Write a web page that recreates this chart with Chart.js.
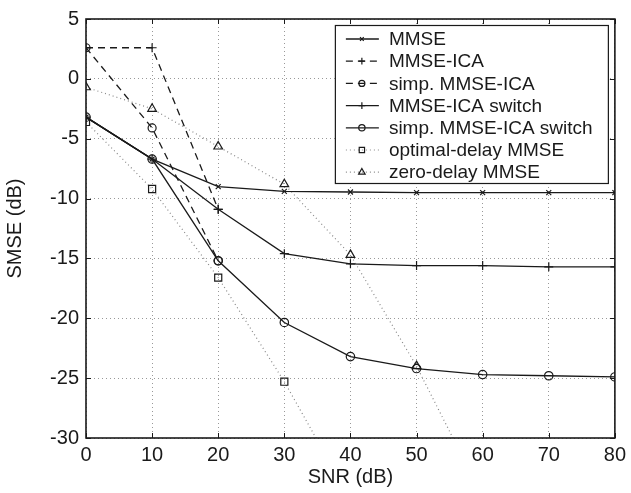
<!DOCTYPE html>
<html>
<head>
<meta charset="utf-8">
<script src="https://cdn.jsdelivr.net/npm/chart.js@4.4.1/dist/chart.umd.min.js"></script>
<style>html,body{margin:0;padding:0;background:#fff}</style>
</head>
<body>
<canvas id="chartSmse" width="631" height="493"></canvas>
<script>
    // values (dB)
    const snr = [0, 10, 20, 30, 40, 50, 60, 70, 80];
    const mmse = [-3.2, -6.7, -9.0, -9.4, -9.45, -9.5, -9.5, -9.5, -9.5];
    const mmseIca = [2.6, 2.6, -10.9, null, null, null, null, null, null];
    const simpMmseIca = [2.6, -4.1, -15.2, null, null, null, null, null, null];
    const mmseIcaSwitch = [-3.2, -6.7, -10.9, -14.6, -15.45, -15.6, -15.6, -15.7, -15.7];
    const simpSwitch = [-3.2, -6.7, -15.2, -20.35, -23.2, -24.2, -24.7, -24.8, -24.9];
    const optimalDelay = [-3.6, -9.2, -16.6, -25.3, -35.1, null, null, null, null];
    const zeroDelay = [-0.7, -2.5, -5.65, -8.8, -14.7, -24.0, -34.9, null, null];

    const snrTicks = [0, 10, 20, 30, 40, 50, 60, 70, 80];
    const smseTicks = [-30, -25, -20, -15, -10, -5, 0, 5];

    const FONT = "'Liberation Sans', Arial, Helvetica, sans-serif";
    const INK = '#1a1a1a';

    function pts(vals) {
      return snr.map((x, i) => ({ x: x, y: vals[i] }));
    }

    function series(label, vals, style, dash, marker, radius, lineColor) {
      return {
        label: label,
        data: pts(vals),
        borderColor: lineColor || INK,
        borderWidth: style === 'dot' ? 1.2 : 1.3,
        borderDash: dash,
        pointStyle: marker,
        pointRadius: radius,
        pointBorderColor: INK,
        pointBackgroundColor: 'rgba(0,0,0,0)',
        pointBorderWidth: 1.2,
        tension: 0,
        spanGaps: false
      };
    }

    const datasets = [
      series('MMSE', mmse, 'solid', [], 'crossRot', 3.5),
      series('MMSE-ICA', mmseIca, 'dash', [7, 5], 'cross', 4.5),
      series('simp. MMSE-ICA', simpMmseIca, 'dash', [7, 5], 'circle', 4),
      series('MMSE-ICA switch', mmseIcaSwitch, 'solid', [], 'cross', 4.5),
      series('simp. MMSE-ICA switch', simpSwitch, 'solid', [], 'circle', 4.2),
      series('optimal-delay MMSE', optimalDelay, 'dot', [1, 3], 'rect', 5, '#888'),
      series('zero-delay MMSE', zeroDelay, 'dot', [1, 3], 'triangle', 5, '#888')
    ];

    // box, inward ticks and the legend, drawn MATLAB style
    const frameAndLegend = {
      id: 'frameAndLegend',
      afterDatasetsDraw(chart) {
        const { ctx, chartArea: a, scales } = chart;
        const line = (x1, y1, x2, y2) => { ctx.beginPath(); ctx.moveTo(x1, y1); ctx.lineTo(x2, y2); ctx.stroke(); };
        ctx.save();
        ctx.setLineDash([]);
        ctx.strokeStyle = INK;
        ctx.lineWidth = 1;
        snrTicks.forEach(v => {
          const px = Math.round(scales.x.getPixelForValue(v)) + 0.5;
          line(px, a.bottom, px, a.bottom - 5);
          line(px, a.top, px, a.top + 5);
        });
        smseTicks.forEach(v => {
          const py = Math.round(scales.y.getPixelForValue(v)) + 0.5;
          line(a.left, py, a.left + 5, py);
          line(a.right, py, a.right - 5, py);
        });
        ctx.lineWidth = 1.6;
        ctx.strokeRect(a.left, a.top, a.right - a.left, a.bottom - a.top);

        // legend box
        const bx = a.right - 280, by = a.top + 6, bw = 273, bh = 158;
        ctx.fillStyle = '#fff';
        ctx.fillRect(bx, by, bw, bh);
        ctx.lineWidth = 1.2;
        ctx.strokeRect(bx + 0.5, by + 0.5, bw, bh);
        ctx.font = '19px ' + FONT;
        ctx.textBaseline = 'middle';
        chart.data.datasets.forEach((ds, i) => {
          const ry = by + 14 + i * 22.2;
          ctx.save();
          ctx.strokeStyle = ds.borderColor;
          ctx.lineWidth = ds.borderWidth;
          ctx.setLineDash(ds.borderDash);
          line(bx + 11, ry, bx + 44, ry);
          ctx.restore();
          ctx.strokeStyle = INK;
          ctx.fillStyle = 'rgba(0,0,0,0)';
          ctx.lineWidth = ds.pointBorderWidth;
          Chart.helpers.drawPoint(ctx, { pointStyle: ds.pointStyle, radius: ds.pointRadius * 0.75, rotation: 0, borderWidth: ds.pointBorderWidth }, bx + 27, ry);
          ctx.fillStyle = INK;
          ctx.fillText(ds.label, bx + 54, ry + 1);
        });
        ctx.restore();
      }
    };

    const ctx = document.getElementById('chartSmse').getContext('2d');
    const chart = new Chart(ctx, {
      type: 'line',
      data: { datasets: datasets },
      plugins: [frameAndLegend],
      options: {
        responsive: false,
        devicePixelRatio: 1,
        animation: false,
        layout: { padding: { top: 18, right: 12, left: 0, bottom: 0 } },
        plugins: { legend: { display: false }, tooltip: { enabled: false } },
        scales: {
          x: {
            type: 'linear', min: 0, max: 80,
            afterFit: s => { s.height = 55; },
            afterBuildTicks: s => { s.ticks = snrTicks.map(v => ({ value: v })); },
            ticks: { color: INK, font: { family: FONT, size: 20 }, padding: 5, maxRotation: 0 },
            grid: { color: '#999', lineWidth: 1, drawTicks: false },
            border: { display: false, dash: [1, 3] },
            title: { display: true, text: 'SNR (dB)', color: INK, font: { family: FONT, size: 20 }, padding: { top: 0, bottom: 4 } }
          },
          y: {
            type: 'linear', min: -30, max: 5,
            afterFit: s => { s.width = 86; },
            afterBuildTicks: s => { s.ticks = smseTicks.map(v => ({ value: v })); },
            ticks: { color: INK, font: { family: FONT, size: 20 }, padding: 7 },
            grid: { color: '#999', lineWidth: 1, drawTicks: false },
            border: { display: false, dash: [1, 3] },
            title: { display: true, text: 'SMSE (dB)', color: INK, font: { family: FONT, size: 20 }, padding: { top: 3, bottom: 0 } }
          }
        }
      }
    });
</script>
</body>
</html>
